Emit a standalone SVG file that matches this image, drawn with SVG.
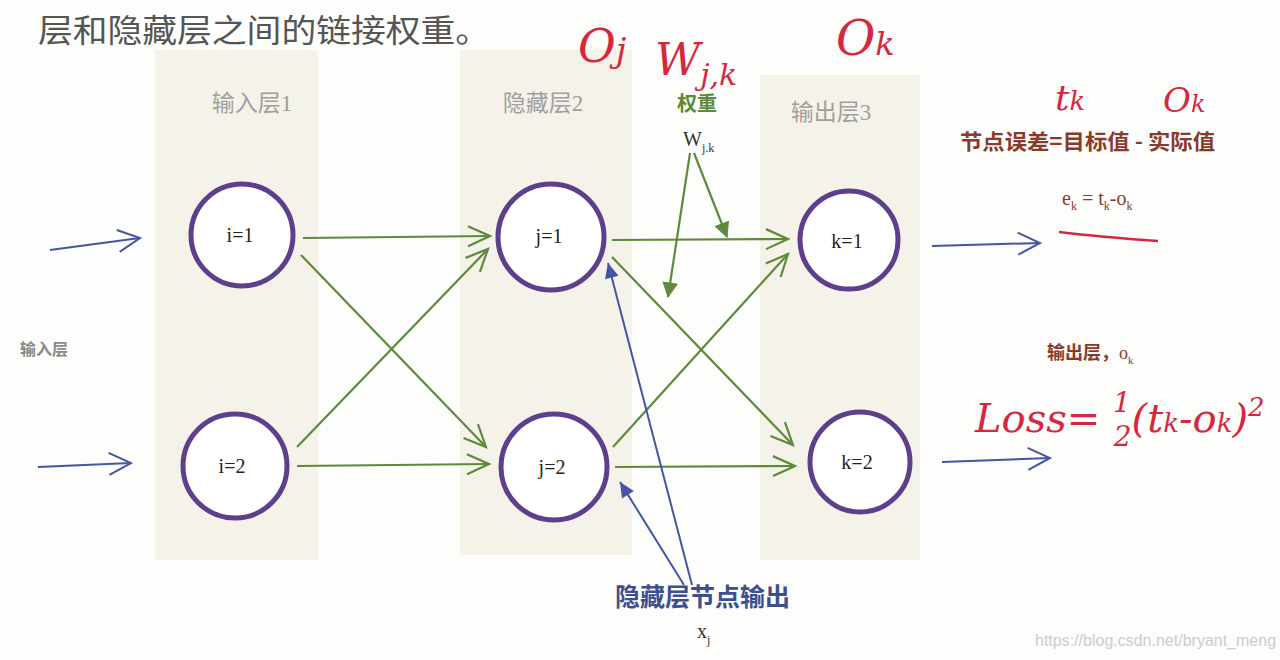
<svg xmlns="http://www.w3.org/2000/svg" width="1280" height="660" viewBox="0 0 1280 660">
<style>
.col{fill:#f5f2e9}
.node{fill:#ffffff;stroke:#5e3f8c;stroke-width:5}
.nl{font-family:"Liberation Serif",serif;font-size:20px;fill:#222;text-anchor:middle}
.hdr{font-family:"Liberation Serif","Noto Sans CJK SC",serif;font-size:23px;fill:#a0a0a0;text-anchor:middle}
.g{stroke:#5d8a3c;stroke-width:2.2;fill:none}
.b{stroke:#4557a3;stroke-width:2;fill:none}
.red{font-family:"DejaVu Serif",serif;font-style:italic;fill:#d5283f}
.brown{font-family:"Noto Sans CJK SC",sans-serif;font-weight:bold;fill:#8a3a2c}
</style>
<defs>
<marker id="ag" markerUnits="userSpaceOnUse" markerWidth="30" markerHeight="30" refX="24" refY="12" orient="auto" viewBox="0 0 30 24">
<path d="M2,2 L24,12 L2,22" fill="none" stroke="#5d8a3c" stroke-width="2.2"/>
</marker>
<marker id="ags" markerUnits="userSpaceOnUse" markerWidth="20" markerHeight="20" refX="16" refY="8" orient="auto" viewBox="0 0 20 16">
<path d="M2,1 L16,8 L2,15 Z" fill="#5d8a3c" stroke="#5d8a3c" stroke-width="1"/>
</marker>
<marker id="ab" markerUnits="userSpaceOnUse" markerWidth="30" markerHeight="30" refX="24" refY="12" orient="auto" viewBox="0 0 30 24">
<path d="M2,1 L24,12 L2,23" fill="none" stroke="#4557a3" stroke-width="2"/>
</marker>
<marker id="abs" markerUnits="userSpaceOnUse" markerWidth="20" markerHeight="20" refX="16" refY="8" orient="auto" viewBox="0 0 20 16">
<path d="M1,1 L16,8 L1,15 Z" fill="#4557a3"/>
</marker>
</defs>
<rect width="1280" height="660" fill="#fdfdfb"/>
<rect class="col" x="155" y="50" width="163" height="510"/>
<rect class="col" x="460" y="50" width="172" height="505"/>
<rect class="col" x="760" y="75" width="160" height="485"/>

<text x="38" y="42" font-family="Noto Sans CJK SC,sans-serif" font-size="32" fill="#555" textLength="452" lengthAdjust="spacingAndGlyphs">层和隐藏层之间的链接权重。</text>

<g id="headers">
<text class="hdr" x="252" y="111">输入层1</text>
<text class="hdr" x="543" y="111">隐藏层2</text>
<text x="697" y="111" font-family="Noto Sans CJK SC,sans-serif" font-weight="bold" font-size="20" fill="#5d8a3c" text-anchor="middle">权重</text>
<text class="hdr" x="831" y="120">输出层3</text>
<text x="20" y="355" font-family="Noto Sans CJK SC,sans-serif" font-weight="bold" font-size="16" fill="#8a8a8a">输入层</text>
</g>

<g id="connectors">
<line class="b" x1="50" y1="250" x2="140" y2="238" marker-end="url(#ab)"/>
<line class="b" x1="38" y1="467" x2="131" y2="463" marker-end="url(#ab)"/>
<line class="g" x1="303" y1="238" x2="490" y2="236" marker-end="url(#ag)"/>
<line class="g" x1="301" y1="255" x2="486" y2="447" marker-end="url(#ag)"/>
<line class="g" x1="297" y1="447" x2="488" y2="249" marker-end="url(#ag)"/>
<line class="g" x1="297" y1="466" x2="489" y2="464" marker-end="url(#ag)"/>
<line class="g" x1="612" y1="240" x2="788" y2="239" marker-end="url(#ag)"/>
<line class="g" x1="612" y1="257" x2="793" y2="445" marker-end="url(#ag)"/>
<line class="g" x1="613" y1="447" x2="788" y2="254" marker-end="url(#ag)"/>
<line class="g" x1="615" y1="467" x2="795" y2="466" marker-end="url(#ag)"/>
<line class="g" x1="690" y1="153" x2="668" y2="297" marker-end="url(#ags)"/>
<line class="g" x1="694" y1="153" x2="727" y2="237" marker-end="url(#ags)"/>
<line class="b" x1="692" y1="585" x2="608" y2="263" marker-end="url(#abs)"/>
<line class="b" x1="684" y1="585" x2="620" y2="482" marker-end="url(#abs)"/>
<line class="b" x1="932" y1="246" x2="1040" y2="243" marker-end="url(#ab)"/>
<line class="b" x1="942" y1="462" x2="1050" y2="458" marker-end="url(#ab)"/>
</g>

<g id="n_i1"><circle class="node" cx="242" cy="235" r="51"/><text class="nl" x="240" y="242">i=1</text></g>
<g id="n_i2"><circle class="node" cx="235" cy="466" r="52"/><text class="nl" x="232" y="473">i=2</text></g>
<g id="n_j1"><circle class="node" cx="551" cy="237" r="53"/><text class="nl" x="549" y="243">j=1</text></g>
<g id="n_j2"><circle class="node" cx="554" cy="467" r="53"/><text class="nl" x="552" y="474">j=2</text></g>
<g id="n_k1"><circle class="node" cx="849" cy="240" r="49"/><text class="nl" x="847" y="248">k=1</text></g>
<g id="n_k2"><circle class="node" cx="860" cy="462" r="50"/><text class="nl" x="857" y="469">k=2</text></g>

<g id="weight_label">
<text x="683" y="146" font-family="Liberation Serif,serif" font-size="20" fill="#333">W<tspan font-size="12" dy="6">j.k</tspan></text>
</g>

<g id="annotations">
<text class="brown" x="960" y="149" font-size="21" textLength="255" lengthAdjust="spacingAndGlyphs">节点误差=目标值 - 实际值</text>
<text x="1062" y="205" font-family="Liberation Serif,serif" font-size="20" fill="#8a3a2c">e<tspan font-size="12" dy="5">k</tspan><tspan dy="-5"> = t</tspan><tspan font-size="12" dy="5">k</tspan><tspan dy="-5">-o</tspan><tspan font-size="12" dy="5">k</tspan></text>
<path d="M1059,232 Q1100,237 1158,241" stroke="#d5283f" stroke-width="2.5" fill="none"/>
<text class="brown" x="1047" y="359" font-size="18">输出层，<tspan font-family="Liberation Serif,serif" font-weight="normal">o</tspan><tspan font-family="Liberation Serif,serif" font-weight="normal" font-size="11" dy="5">k</tspan></text>
<text x="615" y="606" font-family="Noto Sans CJK SC,sans-serif" font-weight="bold" font-size="25" fill="#3d4f8f">隐藏层节点输出</text>
<text x="697" y="638" font-family="Liberation Serif,serif" font-size="20" fill="#333">x<tspan font-size="12" dy="6">j</tspan></text>
</g>

<g id="handwriting">
<text class="red" x="578" y="62" font-size="46">O<tspan font-size="34">j</tspan></text>
<text class="red" x="655" y="75" font-size="44">W<tspan font-size="30" dy="10">j,k</tspan></text>
<text class="red" x="836" y="55" font-size="48">O<tspan font-size="32">k</tspan></text>
<text class="red" x="1055" y="110" font-size="36">t<tspan font-size="26">k</tspan></text>
<text class="red" x="1163" y="112" font-size="34">O<tspan font-size="24">k</tspan></text>
<text class="red" x="975" y="432" font-size="40">Loss= <tspan font-size="28" dy="-20">1</tspan><tspan font-size="28" dx="-17" dy="34">2</tspan><tspan dy="-14">(t</tspan><tspan font-size="26">k</tspan><tspan>-o</tspan><tspan font-size="26">k</tspan><tspan>)</tspan><tspan font-size="26" dy="-16">2</tspan></text>
<line x1="1072" y1="416" x2="1096" y2="416" stroke="#d5283f" stroke-width="2.5"/>
</g>

<text x="1035" y="646" font-family="Liberation Sans,sans-serif" font-size="16" fill="#cccccc">https://blog.csdn.net/bryant_meng</text>
</svg>
